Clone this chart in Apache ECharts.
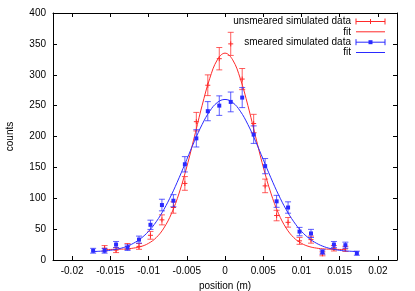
<!DOCTYPE html>
<html>
<head>
<meta charset="utf-8">
<script src="https://cdn.jsdelivr.net/npm/echarts@6/dist/echarts.min.js"></script>
<style>html,body{margin:0;padding:0;background:#fff}#c{width:415px;height:291px}</style>
</head>
<body>
<div id="c"></div>
<script>
// bin centres (m)
const positions = [-0.01725,-0.01575,-0.01425,-0.01275,-0.01125,-0.00975,-0.00825,-0.00675,-0.00525,-0.00375,-0.00225,-0.00075,0.00075,0.00225,0.00375,0.00525,0.00675,0.00825,0.00975,0.01125,0.01275,0.01425,0.01575,0.01725];
// unsmeared simulated data (counts) and errors
const unsmeared    = [null,19,16,22,22,40,65,85,124,224,283,326,350,293,221,120,72,61,31,33,10,19,18,null];
const unsmearedErr = [null,4.4,4.0,4.7,4.7,6.3,8.1,9.2,11.1,15.0,16.8,18.1,18.7,17.1,14.9,11.0,8.5,7.8,5.6,5.7,3.2,4.4,4.2,null];
// smeared simulated data (counts) and errors
const smeared      = [15,15,25,20,33,57,89,96,155,197,241,250,256,263,203,152,95,85,46,43,13,25,24,11];
const smearedErr   = [3.9,3.9,5.0,4.5,5.7,7.5,9.4,9.8,12.4,14.0,15.5,15.8,16.0,16.2,14.2,12.3,9.7,9.2,6.8,6.6,3.6,5.0,4.9,3.3];
// fit curves
const fitRedX = [-0.01575,-0.015,-0.014,-0.013,-0.012,-0.011,-0.010,-0.009,-0.008,-0.007,-0.006,-0.005,-0.004,-0.003,-0.002,-0.001,0,0.001,0.002,0.003,0.004,0.005,0.006,0.007,0.008,0.009,0.010,0.011,0.012,0.013,0.014,0.015,0.01575];
const fitRedY = [17.0,17.1,17.4,17.9,19.2,21.8,27.0,36.2,51.7,75.3,108.4,150.8,199.8,249.9,293.9,324.2,335.0,324.2,293.9,249.9,199.8,150.8,108.4,75.3,51.7,36.2,27.0,21.8,19.2,17.9,17.4,17.1,17.0];
const fitBlueX = [-0.01725,-0.017,-0.016,-0.015,-0.014,-0.013,-0.012,-0.011,-0.010,-0.009,-0.008,-0.007,-0.006,-0.005,-0.004,-0.003,-0.002,-0.001,0,0.001,0.002,0.003,0.004,0.005,0.006,0.007,0.008,0.009,0.010,0.011,0.012,0.013,0.014,0.015,0.016,0.017,0.01725];
const fitBlueY = [13.7,13.8,14.5,15.7,17.9,21.4,26.9,35.0,46.4,61.9,81.7,105.7,133.2,162.8,192.3,219.3,241.0,255.1,260.0,255.1,241.0,219.3,192.3,162.8,133.2,105.7,81.7,61.9,46.4,35.0,26.9,21.4,17.9,15.7,14.5,13.8,13.7];
// axis ticks
const xTicks = [-0.02,-0.015,-0.01,-0.005,0,0.005,0.01,0.015,0.02];
const xTickLabels = ['-0.02','-0.015','-0.01','-0.005','0','0.005','0.01','0.015','0.02'];
const legendNames = ['unsmeared simulated data','fit','smeared simulated data','fit'];

const RED = '#ff2a2a', RED_EB = 'rgba(255,40,40,0.75)';
const BLUE = '#2a2aff', BLUE_EB = 'rgba(40,40,255,0.75)';
const FONT = 'Liberation Sans, Arial, sans-serif';

function triples(xs, ys, es){
  const out = [];
  for (let i = 0; i < xs.length; i++) if (ys[i] != null) out.push([xs[i], ys[i], es[i]]);
  return out;
}
function pairs(xs, ys){ return xs.map((x,i)=>[x, ys[i]]); }

function errRender(color, markColor, marker){
  return function(params, api){
    const x = api.value(0), y = api.value(1), e = api.value(2);
    const p = api.coord([x,y]), hi = api.coord([x,y+e]), lo = api.coord([x,y-e]);
    const st = {stroke: color, lineWidth: 1};
    const ch = [
      {type:'line', shape:{x1:p[0],y1:hi[1],x2:p[0],y2:lo[1]}, style:st},
      {type:'line', shape:{x1:p[0]-3,y1:hi[1],x2:p[0]+3,y2:hi[1]}, style:st},
      {type:'line', shape:{x1:p[0]-3,y1:lo[1],x2:p[0]+3,y2:lo[1]}, style:st}
    ];
    if (marker === 'plus') {
      ch.push({type:'line', shape:{x1:p[0]-2.5,y1:p[1],x2:p[0]+2.5,y2:p[1]}, style:{stroke:markColor,lineWidth:1}});
      ch.push({type:'line', shape:{x1:p[0],y1:p[1]-2.5,x2:p[0],y2:p[1]+2.5}, style:{stroke:markColor,lineWidth:1}});
    } else {
      ch.push({type:'rect', shape:{x:p[0]-2,y:p[1]-2,width:4,height:4}, style:{fill:markColor}});
    }
    return {type:'group', children: ch};
  };
}

const chart = echarts.init(document.getElementById('c'), null, {renderer:'canvas'});

// legend drawn top-right, gnuplot style
const LX_TEXT = 351, LX1 = 356, LX2 = 385, LROWS = [21.5, 31.8, 42.2, 52.5];
const legendEls = [];
const legendColors = [RED, RED, BLUE, BLUE];
legendNames.forEach((n,i)=>{
  const y = LROWS[i];
  legendEls.push({type:'text', x: LX_TEXT, y: y, style:{text:n, fill:'#000', font:'10px '+FONT, align:'right', verticalAlign:'middle'}});
  const c = legendColors[i];
  legendEls.push({type:'line', shape:{x1:LX1,y1:y,x2:LX2,y2:y}, style:{stroke:c,lineWidth:1}});
  if (i === 0 || i === 2) {
    legendEls.push({type:'line', shape:{x1:LX1,y1:y-3,x2:LX1,y2:y+3}, style:{stroke:c,lineWidth:1}});
    legendEls.push({type:'line', shape:{x1:LX2,y1:y-3,x2:LX2,y2:y+3}, style:{stroke:c,lineWidth:1}});
    const mx = (LX1+LX2)/2;
    if (i === 0) {
      legendEls.push({type:'line', shape:{x1:mx,y1:y-2.5,x2:mx,y2:y+2.5}, style:{stroke:c,lineWidth:1}});
    } else {
      legendEls.push({type:'rect', shape:{x:mx-2,y:y-2,width:4,height:4}, style:{fill:c}});
    }
  }
});

const axisCommonX = {
  type:'value', min:-0.0225, max:0.0225,
  axisLine:{show:true, onZero:false, lineStyle:{color:'#000', width:1}},
  splitLine:{show:false}
};
const axisCommonY = {
  type:'value', min:0, max:400, interval:50,
  axisLine:{show:true, onZero:false, lineStyle:{color:'#000', width:1}},
  splitLine:{show:false}
};

chart.setOption({
  animation:false,
  backgroundColor:'#fff',
  textStyle:{fontFamily:FONT},
  grid:{left:53, right:18, top:13, bottom:31, containLabel:false, outerBoundsMode:'none'},
  xAxis:[
    Object.assign({}, axisCommonX, {
      position:'bottom',
      axisTick:{show:true, inside:true, length:4, customValues:xTicks, lineStyle:{color:'#000'}},
      axisLabel:{customValues:xTicks, color:'#000', fontSize:10, fontFamily:FONT, margin:6,
        formatter:(v)=>{ const i = xTicks.findIndex(t=>Math.abs(t-v)<1e-9); return i>=0 ? xTickLabels[i] : ''; }},
      name:'position (m)', nameLocation:'middle', nameGap:19,
      nameTextStyle:{color:'#000', fontSize:10, fontFamily:FONT}
    }),
    Object.assign({}, axisCommonX, {
      position:'top',
      axisTick:{show:true, inside:true, length:4, customValues:xTicks, lineStyle:{color:'#000'}},
      axisLabel:{show:false}
    })
  ],
  yAxis:[
    Object.assign({}, axisCommonY, {
      position:'left',
      axisTick:{show:true, inside:true, length:4, lineStyle:{color:'#000'}},
      axisLabel:{color:'#000', fontSize:10, fontFamily:FONT, margin:7},
      name:'counts', nameLocation:'middle', nameGap:38, nameRotate:90,
      nameTextStyle:{color:'#000', fontSize:10, fontFamily:FONT}
    }),
    Object.assign({}, axisCommonY, {
      position:'right',
      axisTick:{show:true, inside:true, length:4, lineStyle:{color:'#000'}},
      axisLabel:{show:false}
    })
  ],
  series:[
    {type:'custom', name:legendNames[0], xAxisIndex:0, yAxisIndex:0, encode:{x:0, y:1},
     data:triples(positions, unsmeared, unsmearedErr), renderItem:errRender(RED_EB, RED, 'plus'), z:2},
    {type:'line', name:legendNames[1], xAxisIndex:0, yAxisIndex:0, data:pairs(fitRedX, fitRedY),
     smooth:0.4, showSymbol:false, lineStyle:{color:RED, width:1}, itemStyle:{color:RED}, z:3},
    {type:'custom', name:legendNames[2], xAxisIndex:0, yAxisIndex:0, encode:{x:0, y:1},
     data:triples(positions, smeared, smearedErr), renderItem:errRender(BLUE_EB, BLUE, 'square'), z:4},
    {type:'line', name:legendNames[3], xAxisIndex:0, yAxisIndex:0, data:pairs(fitBlueX, fitBlueY),
     smooth:0.4, showSymbol:false, lineStyle:{color:BLUE, width:1}, itemStyle:{color:BLUE}, z:5}
  ],
  graphic: legendEls
});
</script>
</body>
</html>
